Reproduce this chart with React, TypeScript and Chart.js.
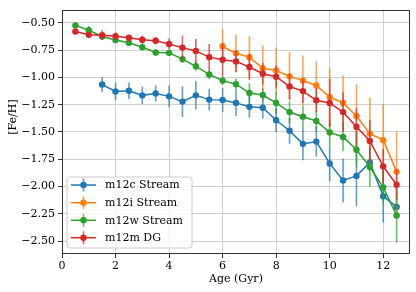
import React, { useEffect, useRef } from "react";
import { Chart, registerables } from "chart.js";

Chart.register(...registerables);

// ---- data ----
const agesFull = [0.5, 1, 1.5, 2, 2.5, 3, 3.5, 4, 4.5, 5, 5.5, 6, 6.5, 7, 7.5, 8, 8.5, 9, 9.5, 10, 10.5, 11, 11.5, 12, 12.5];
const agesM12c = [1.5, 2, 2.5, 3, 3.5, 4, 4.5, 5, 5.5, 6, 6.5, 7, 7.5, 8, 8.5, 9, 9.5, 10, 10.5, 11, 11.5, 12, 12.5];
const agesM12i = [6, 6.5, 7, 7.5, 8, 8.5, 9, 9.5, 10, 10.5, 11, 11.5, 12, 12.5];

const m12cFeH = [-1.066, -1.129, -1.123, -1.165, -1.147, -1.174, -1.222, -1.165, -1.204, -1.207, -1.234, -1.27, -1.279, -1.393, -1.489, -1.609, -1.588, -1.788, -1.944, -1.902, -1.779, -2.088, -2.186];
const m12cErr = [0.07, 0.08, 0.075, 0.08, 0.075, 0.1, 0.14, 0.13, 0.1, 0.11, 0.12, 0.1, 0.1, 0.11, 0.12, 0.15, 0.14, 0.16, 0.2, 0.28, 0.05, 0.24, 0.04];

const m12iFeH = [-0.716, -0.779, -0.815, -0.917, -0.938, -0.991, -1.03, -1.075, -1.18, -1.234, -1.354, -1.515, -1.575, -1.863];
const m12iErr = [0.16, 0.17, 0.19, 0.21, 0.21, 0.22, 0.23, 0.225, 0.27, 0.25, 0.29, 0.33, 0.33, 0.37];

const m12wFeH = [-0.524, -0.569, -0.626, -0.659, -0.683, -0.725, -0.773, -0.776, -0.833, -0.899, -0.973, -1.03, -1.063, -1.144, -1.162, -1.234, -1.318, -1.36, -1.399, -1.504, -1.546, -1.663, -1.821, -2.007, -2.265];
const m12wErr = [0.02, 0.04, 0.03, 0.02, 0.02, 0.02, 0.03, 0.02, 0.035, 0.04, 0.045, 0.04, 0.05, 0.09, 0.06, 0.1, 0.1, 0.1, 0.1, 0.12, 0.13, 0.16, 0.18, 0.15, 0.25];

const m12mFeH = [-0.581, -0.611, -0.614, -0.623, -0.638, -0.656, -0.665, -0.695, -0.728, -0.758, -0.815, -0.839, -0.854, -0.905, -0.967, -0.994, -1.084, -1.126, -1.21, -1.234, -1.318, -1.452, -1.582, -1.815, -1.983];
const m12mErr = [0.02, 0.025, 0.045, 0.035, 0.03, 0.04, 0.035, 0.05, 0.11, 0.11, 0.12, 0.15, 0.1, 0.12, 0.1, 0.1, 0.12, 0.11, 0.11, 0.22, 0.18, 0.17, 0.19, 0.16, 0.14];

const seriesLabels = ["m12c Stream", "m12i Stream", "m12w Stream", "m12m DG"];
const seriesColors = ["#1f77b4", "#ff7f0e", "#2ca02c", "#d62728"];
const seriesRGB = ["31,119,180", "255,127,14", "44,160,44", "214,39,40"];
const xTitle = "Age (Gyr)";
const yTitle = "[Fe/H]";

const FONT = "'DejaVu Serif', serif";

const series = [
  { ages: agesM12c, vals: m12cFeH, errs: m12cErr },
  { ages: agesM12i, vals: m12iFeH, errs: m12iErr },
  { ages: agesFull, vals: m12wFeH, errs: m12wErr },
  { ages: agesFull, vals: m12mFeH, errs: m12mErr },
];

const fmt = (v: number) => {
  const s = v.toFixed(2);
  return s.replace("-", "\u2212");
};

const errorBarPlugin = {
  id: "errorBars",
  beforeDatasetDraw(chart: any, args: any) {
    const i = args.index;
    const s = series[i];
    if (!s) return;
    const ctx = chart.ctx;
    const xs = chart.scales.x;
    const ys = chart.scales.y;
    const ca = chart.chartArea;
    ctx.save();
    ctx.beginPath();
    ctx.rect(ca.left, ca.top, ca.right - ca.left, ca.bottom - ca.top);
    ctx.clip();
    ctx.strokeStyle = `rgba(${seriesRGB[i]},0.7)`;
    ctx.lineWidth = 1.6;
    s.ages.forEach((a, k) => {
      const x = xs.getPixelForValue(a);
      const y1 = ys.getPixelForValue(s.vals[k] + s.errs[k]);
      const y2 = ys.getPixelForValue(s.vals[k] - s.errs[k]);
      ctx.beginPath();
      ctx.moveTo(x, y1);
      ctx.lineTo(x, y2);
      ctx.stroke();
    });
    ctx.restore();
  },
};

const framePlugin = {
  id: "frameAndLegend",
  afterDraw(chart: any) {
    const ctx = chart.ctx;
    const ca = chart.chartArea;
    ctx.save();
    // frame
    ctx.strokeStyle = "#333";
    ctx.lineWidth = 1;
    ctx.strokeRect(Math.round(ca.left) + 0.5, Math.round(ca.top) + 0.5, Math.round(ca.right - ca.left) - 1, Math.round(ca.bottom - ca.top) - 1);

    // axis titles
    ctx.fillStyle = "#000";
    ctx.font = `11px ${FONT}`;
    ctx.textAlign = "center";
    ctx.textBaseline = "middle";
    ctx.fillText(xTitle, (ca.left + ca.right) / 2, 279);
    ctx.save();
    ctx.translate(13, 117);
    ctx.rotate(-Math.PI / 2);
    ctx.fillText(yTitle, 0, 0);
    ctx.restore();

    // legend
    const bx = 67, by = 177, bw = 125, bh = 71, r = 3;
    ctx.beginPath();
    ctx.moveTo(bx + r, by);
    ctx.lineTo(bx + bw - r, by);
    ctx.arcTo(bx + bw, by, bx + bw, by + r, r);
    ctx.lineTo(bx + bw, by + bh - r);
    ctx.arcTo(bx + bw, by + bh, bx + bw - r, by + bh, r);
    ctx.lineTo(bx + r, by + bh);
    ctx.arcTo(bx, by + bh, bx, by + bh - r, r);
    ctx.lineTo(bx, by + r);
    ctx.arcTo(bx, by, bx + r, by, r);
    ctx.closePath();
    ctx.fillStyle = "rgba(255,255,255,0.8)";
    ctx.fill();
    ctx.strokeStyle = "#cccccc";
    ctx.lineWidth = 1;
    ctx.stroke();

    const rowY = [185, 202.7, 220.3, 237.7];
    seriesLabels.forEach((lab, i) => {
      const y = rowY[i];
      ctx.strokeStyle = `rgba(${seriesRGB[i]},0.7)`;
      ctx.lineWidth = 1.6;
      ctx.beginPath();
      ctx.moveTo(83.5, y - 6.5);
      ctx.lineTo(83.5, y + 6.5);
      ctx.stroke();
      ctx.strokeStyle = seriesColors[i];
      ctx.lineWidth = 1.5;
      ctx.beginPath();
      ctx.moveTo(71, y);
      ctx.lineTo(96, y);
      ctx.stroke();
      ctx.fillStyle = seriesColors[i];
      ctx.beginPath();
      ctx.arc(83.5, y, 3.2, 0, Math.PI * 2);
      ctx.fill();
      ctx.fillStyle = "#000";
      ctx.textAlign = "left";
      ctx.textBaseline = "middle";
      ctx.font = `11px ${FONT}`;
      ctx.fillText(lab, 105, y + 0.5);
    });
    ctx.restore();
  },
};

export default function App() {
  const ref = useRef<HTMLCanvasElement | null>(null);
  useEffect(() => {
    if (!ref.current) return;
    const orders = [3, 2, 1, 0];
    const chart = new Chart(ref.current, {
      type: "line",
      data: {
        datasets: series.map((s, i) => ({
          label: seriesLabels[i],
          data: s.ages.map((a, k) => ({ x: a, y: s.vals[k] })),
          borderColor: seriesColors[i],
          backgroundColor: seriesColors[i],
          pointBackgroundColor: seriesColors[i],
          pointBorderWidth: 0,
          pointRadius: 3.2,
          borderWidth: 1.5,
          tension: 0,
          fill: false,
          order: orders[i],
        })),
      },
      options: {
        animation: false,
        responsive: false,
        maintainAspectRatio: false,
        layout: { padding: { top: 5, right: 6, left: 0, bottom: 0 } },
        plugins: { legend: { display: false }, tooltip: { enabled: false } },
        scales: {
          x: {
            type: "linear",
            min: 0,
            max: 13,
            afterFit: (s: any) => { s.height = 38; },
            ticks: {
              stepSize: 2,
              includeBounds: false,
              color: "#000",
              font: { family: FONT, size: 11 },
              padding: 2,
              maxRotation: 0,
              callback: (v: any) => String(v),
            },
            grid: { color: "#d0d0d0", lineWidth: 1, tickLength: 4, tickColor: "#333" },
            border: { display: false },
          },
          y: {
            type: "linear",
            min: -2.617,
            max: -0.38,
            afterFit: (s: any) => { s.width = 62; },
            ticks: {
              stepSize: 0.25,
              includeBounds: false,
              color: "#000",
              font: { family: FONT, size: 11 },
              padding: 3,
              callback: (v: any) => fmt(Number(v)),
            },
            grid: { color: "#d0d0d0", lineWidth: 1, tickLength: 4, tickColor: "#333" },
            border: { display: false },
          },
        },
      },
      plugins: [errorBarPlugin, framePlugin],
    } as any);
    return () => chart.destroy();
  }, []);
  return (
    <div style={{ position: "fixed", left: 0, top: 0, width: 416, height: 292, background: "#fff" }}>
      <canvas ref={ref} width={416} height={292} style={{ width: 416, height: 292 }} />
    </div>
  );
}
